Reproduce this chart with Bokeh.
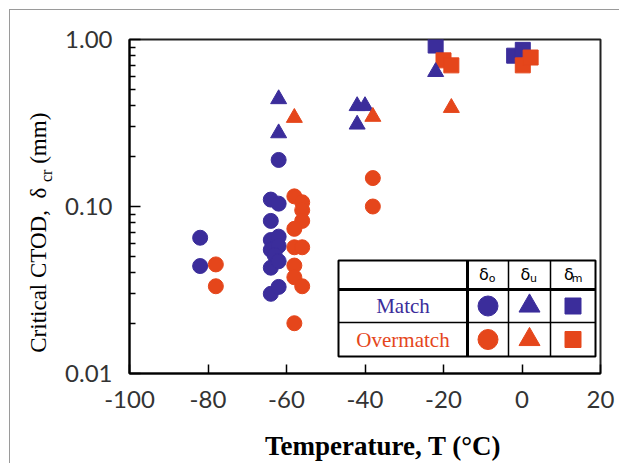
from bokeh.plotting import figure
from bokeh.models import Range1d, FixedTicker, PrintfTickFormatter, Label, Div
from bokeh.layouts import row, column
from bokeh.embed import file_html
from bokeh.resources import INLINE

# ---------------- data ----------------
x_ticks = [-100, -80, -60, -40, -20, 0, 20]
y_ticks = [0.01, 0.1, 1.0]

# Match, delta_o (circles)
match_o_T = [-82, -82, -62, -64, -62, -64, -64, -62, -64, -62, -63, -64, -62, -64, -62]
match_o_v = [0.065, 0.044, 0.19, 0.11, 0.104, 0.082, 0.063, 0.066, 0.055, 0.058,
             0.051, 0.043, 0.047, 0.030, 0.033]
# Overmatch, delta_o (circles)
over_o_T = [-78, -78, -58, -56, -56, -56, -58, -58, -56, -58, -58, -56, -58, -38, -38]
over_o_v = [0.045, 0.0333, 0.115, 0.106, 0.095, 0.082, 0.0735, 0.057, 0.057, 0.0443,
            0.0377, 0.0333, 0.020, 0.148, 0.10]
# Match, delta_u (triangles)
match_u_T = [-62, -62, -42, -40, -42, -22]
match_u_v = [0.44, 0.275, 0.40, 0.40, 0.31, 0.64]
# Overmatch, delta_u (triangles)
over_u_T = [-58, -38, -18]
over_u_v = [0.34, 0.345, 0.39]
# Match, delta_m (squares)
match_m_T = [-22, -2, 0.2]
match_m_v = [0.92, 0.80, 0.867]
# Overmatch, delta_m (squares)
over_m_T = [-20, -18, 0.2, 2.2]
over_m_v = [0.75, 0.70, 0.70, 0.78]

row_names = ["Match", "Overmatch"]
col_syms = [("δ", "o"), ("δ", "u"), ("δ", "m")]
x_title = "Temperature, T (°C)"

BLUE = "#3b2d9b"
ORANGE = "#e5461b"

# ---------------- figure ----------------
DIV_W = 50
XDIV_H = 38
P_H = 453 - XDIV_H
p = figure(width=609 - DIV_W, height=P_H,
           x_range=Range1d(-100, 20), y_range=Range1d(0.01, 1.0),
           y_axis_type="log", output_backend="svg", toolbar_location=None,
           min_border_left=119 - DIV_W, min_border_right=19,
           min_border_top=29, min_border_bottom=P_H - 29 - 334)
p.margin = 0
p.background_fill_color = "white"
p.border_fill_color = "white"
p.grid.visible = False
p.outline_line_color = "#222222"
p.outline_line_width = 2

# x axis
p.xaxis.ticker = FixedTicker(ticks=x_ticks)
p.xaxis.formatter = PrintfTickFormatter(format="%d")
p.xaxis.major_tick_in = 9
p.xaxis.major_tick_out = 0
p.xaxis.axis_line_width = 2
p.xaxis.major_tick_line_width = 1.5
p.xaxis.major_label_standoff = 17

# y axis
minor = [k * d for d in (0.01, 0.1) for k in range(2, 10)]
p.yaxis.ticker = FixedTicker(ticks=y_ticks, minor_ticks=minor)
p.yaxis.formatter = PrintfTickFormatter(format="%.2f")
p.yaxis.major_tick_in = 11
p.yaxis.major_tick_out = 0
p.yaxis.minor_tick_in = 6
p.yaxis.minor_tick_out = 0
p.yaxis.axis_line_width = 2
p.yaxis.major_tick_line_width = 1.5
p.yaxis.minor_tick_line_width = 1.5
p.yaxis.major_label_standoff = 17

for ax in (p.xaxis, p.yaxis):
    ax.major_label_text_font = "Lato"
    ax.major_label_text_font_size = "24px"
    ax.major_label_text_color = "#333333"
    ax.axis_line_color = "black"
    ax.major_tick_line_color = "black"
p.xaxis.minor_tick_line_color = None
p.yaxis.minor_tick_line_color = "black"

# ---------------- data marks ----------------
p.scatter(match_o_T, match_o_v, marker="circle", size=15, color=BLUE)
p.scatter(over_o_T, over_o_v, marker="circle", size=15, color=ORANGE)
p.scatter(match_m_T, match_m_v, marker="square", size=15, color=BLUE)
p.scatter(over_m_T, over_m_v, marker="square", size=15, color=ORANGE)
p.scatter(match_u_T, match_u_v, marker="triangle", size=16, color=BLUE)
p.scatter(over_u_T, over_u_v, marker="triangle", size=16, color=ORANGE)

# ---------------- legend table (page pixels -> data) ----------------
FL, FR, FT, FB = 129, 600, 39, 373


def tx(px):
    return -100 + (px - FL) * 120.0 / (FR - FL)


def ty(py):
    return 10 ** (-(py - FT) * 2.0 / (FB - FT))


L, R, T, B = 338, 595, 260, 356
cols = [467, 508, 550]
rows = [289, 322]
p.quad(left=[tx(L)], right=[tx(R)], top=[ty(T)], bottom=[ty(B)],
       fill_color="white", line_color="black", line_width=2)
p.segment(x0=[tx(L)], x1=[tx(R)], y0=[ty(rows[0])], y1=[ty(rows[0])],
          line_color="black", line_width=3)
p.segment(x0=[tx(L)], x1=[tx(R)], y0=[ty(rows[1])], y1=[ty(rows[1])],
          line_color="black", line_width=1.5)
p.segment(x0=[tx(cols[0])], x1=[tx(cols[0])], y0=[ty(T)], y1=[ty(B)],
          line_color="black", line_width=3)
p.segment(x0=[tx(c) for c in cols[1:]], x1=[tx(c) for c in cols[1:]],
          y0=[ty(T)] * 2, y1=[ty(B)] * 2, line_color="black", line_width=1.5)

col_cx = [(467 + 508) / 2, (508 + 550) / 2, (550 + 595) / 2]
row_cy = [(289 + 322) / 2, (322 + 356) / 2]
head_cy = (260 + 289) / 2
name_cx = (338 + 467) / 2

for (sym, sub), cx in zip(col_syms, col_cx):
    p.add_layout(Label(x=tx(cx - 4), y=ty(head_cy - 1), text=sym,
                       text_font="DejaVu Sans", text_font_size="16px",
                       text_align="center", text_baseline="middle", text_color="black"))
    p.add_layout(Label(x=tx(cx + 4), y=ty(head_cy + 3), text=sub,
                       text_font="DejaVu Sans", text_font_size="11px",
                       text_align="center", text_baseline="middle", text_color="black"))

for name, cy, col in zip(row_names, row_cy, [BLUE, ORANGE]):
    p.add_layout(Label(x=tx(name_cx), y=ty(cy), text=name,
                       text_font="Liberation Serif", text_font_size="21px",
                       text_align="center", text_baseline="middle", text_color=col))
    p.scatter([tx(col_cx[0])], [ty(cy)], marker="circle", size=20, color=col)
    p.scatter([tx(col_cx[1])], [ty(cy)], marker="triangle", size=21, color=col)
    p.scatter([tx(col_cx[2])], [ty(cy)], marker="square", size=16, color=col)

# ---------------- y-axis title (HTML, for the subscript) ----------------
ytitle = ('<div style="width:62px;height:446px;display:flex;align-items:center;'
          'justify-content:center;">'
          '<span style="display:inline-block;transform:rotate(-90deg);white-space:nowrap;'
          'font-family:\'Liberation Serif\';font-size:23px;color:#000;">'
          'Critical CTOD,&nbsp;&nbsp;δ&nbsp;<sub style="font-size:16px">cr</sub>&nbsp;(mm)'
          '</span></div>')
ydiv = Div(text=ytitle, width=DIV_W, height=P_H, margin=0)

# ---------------- x-axis title (HTML, placed right of centre as in the original) ----
xtitle = ('<div style="position:relative;width:609px;height:%dpx;">'
          '<span style="position:absolute;left:255px;top:21px;transform:translateY(-50%%);'
          'white-space:nowrap;font-family:\'Liberation Serif\';font-weight:bold;'
          'font-size:27px;color:#000;line-height:1;">%s</span></div>') % (XDIV_H, x_title)
xdiv = Div(text=xtitle, width=609, height=XDIV_H, margin=0)

layout = column(row(ydiv, p, spacing=0), xdiv, spacing=0,
                styles={"margin-left": "9px", "margin-top": "9px",
                        "border-left": "1px solid #9a9a9a",
                        "border-top": "1px solid #9a9a9a"})

open("out.html", "w").write(file_html(layout, INLINE))
